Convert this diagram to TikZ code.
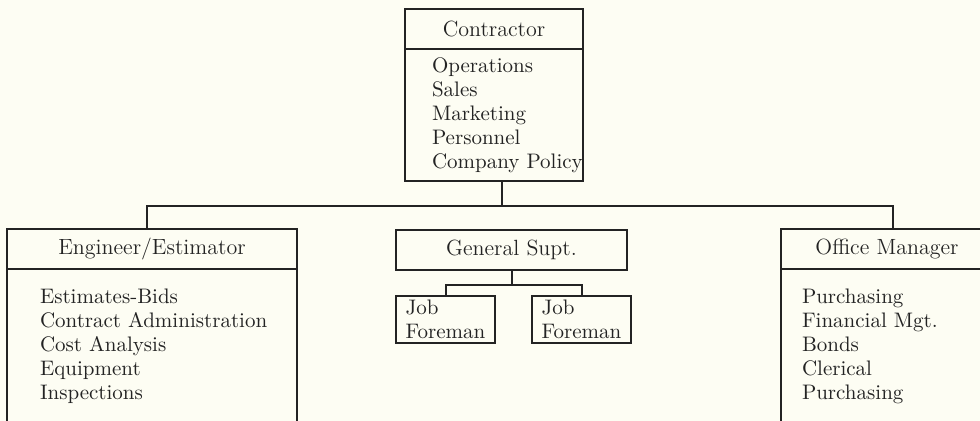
\documentclass[tikz,border=0pt]{standalone}
\usetikzlibrary{positioning}
\definecolor{paper}{RGB}{253,253,243}
\definecolor{ink}{RGB}{35,35,35}

\begin{document}
\begin{tikzpicture}[
    x=0.5pt, y=-0.5pt,
    every node/.style={text=ink, outer sep=0pt},
    head/.style={rectangle, draw=ink, line width=1pt, minimum height=20pt, inner sep=0pt, font=\fontsize{11}{13}\selectfont},
    body/.style={rectangle, draw=ink, line width=1pt, inner sep=0pt},
    duties/.style={align=left, inner sep=0pt, font=\fontsize{10.5}{12}\selectfont},
    foreman/.style={rectangle, draw=ink, line width=1pt, align=left, inner xsep=4.4pt, inner ysep=0pt, minimum width=49.5pt, minimum height=23.5pt, font=\fontsize{10.5}{12}\selectfont},
    link/.style={draw=ink, line width=1pt}
]

\fill[paper] (0,0) rectangle (980,421);
\useasboundingbox (0,0) rectangle (980,421);

% Contractor
\node[head, minimum width=89pt] (ctrhead) at (494,29) {Contractor};
\node[body, minimum width=89pt, minimum height=66pt, below=0pt of ctrhead] (ctrbody) {};
\node[duties, right=13.5pt of ctrbody.west] (ctrlist) {Operations\\Sales\\Marketing\\Personnel\\Company Policy};

% Engineer/Estimator
\node[head, minimum width=145pt] (enghead) at (152,249) {Engineer/Estimator};
\node[body, minimum width=145pt, minimum height=77pt, below=0pt of enghead] (engbody) {};
\node[duties, right=16.5pt of engbody.west] (englist) {Estimates-Bids\\Contract Administration\\Cost Analysis\\Equipment\\Inspections};

% General Supt. and foremen
\node[head, minimum width=115.5pt] (gensupt) at (511.5,250) {General Supt.};
\node[foreman, below right=13pt and 0pt of gensupt.south west] (job1) {Job\\Foreman};
\node[foreman, right=18.5pt of job1] (job2) {Job\\Foreman};

% Office Manager
\node[head, minimum width=106pt] (offhead) at (887,249) {Office Manager};
\node[body, minimum width=106pt, minimum height=77pt, below=0pt of offhead] (offbody) {};
\node[duties, right=10.5pt of offbody.west] (offlist) {Purchasing\\Financial Mgt.\\Bonds\\Clerical\\Purchasing};

% Lines
\draw[link] ([xshift=4pt]ctrbody.south) -- ++(0,-12.5pt) coordinate (bus);
\draw[link] ([xshift=-2.5pt]enghead.north) |- (bus) -| ([xshift=3pt]offhead.north);
\draw[link] (gensupt.south) -- ++(0,-7.5pt) coordinate (split);
\draw[link] (job1.north) |- (split) -| (job2.north);

\end{tikzpicture}
\end{document}
